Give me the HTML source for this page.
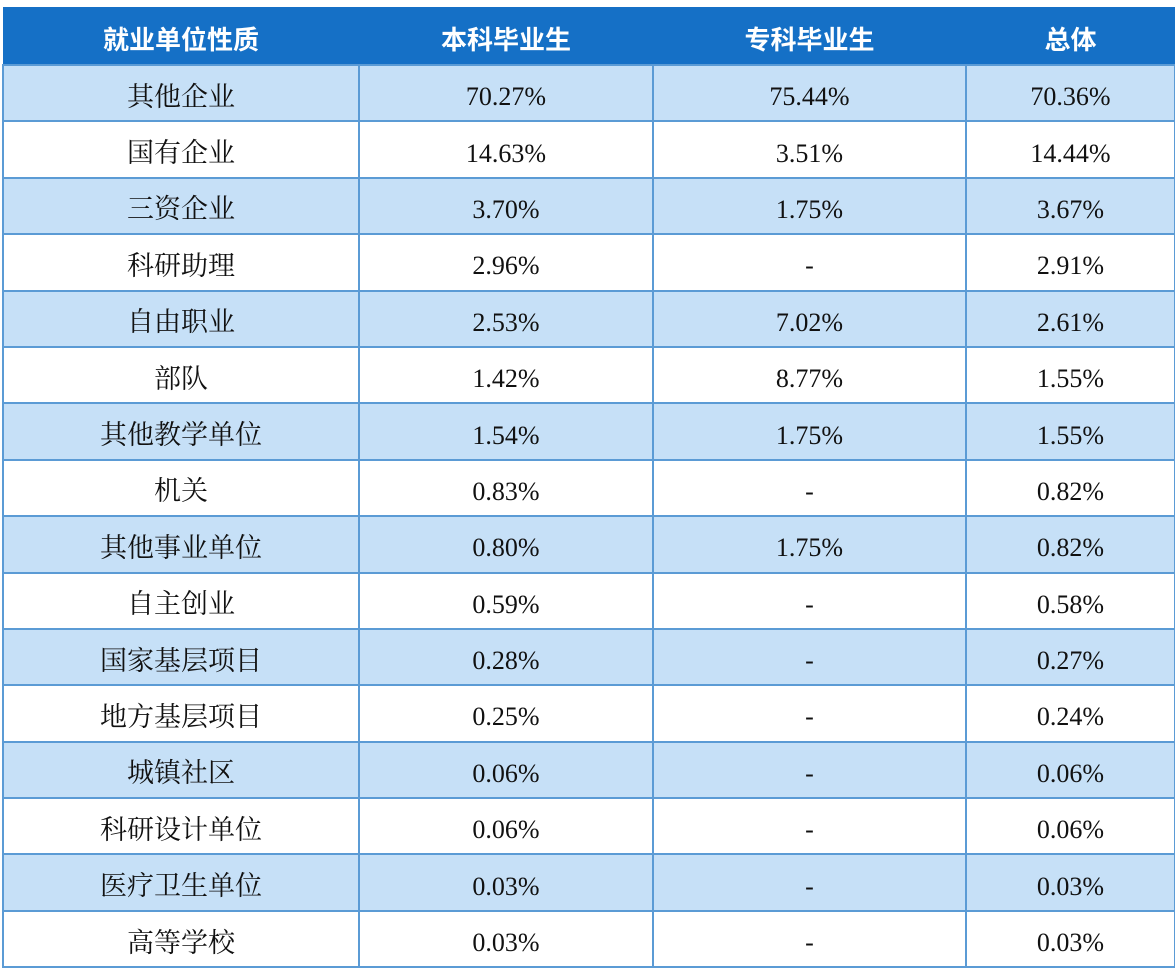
<!DOCTYPE html>
<html><head><meta charset="utf-8"><style>
body{margin:0;background:#fff;width:1175px;height:969px;overflow:hidden}
table{position:absolute;left:2px;top:7px;border-collapse:collapse;table-layout:fixed;width:1172px}
th{background:#1570c6;color:#fff;height:57px;font:bold 26px/1 "Liberation Sans","Noto Sans CJK SC",sans-serif;border:none;padding:0}
th span{position:relative;top:4px}
td{height:54.4px;border:2px solid #5b9bd5;text-align:center;padding:0;font:26px/1 "Liberation Serif",serif;color:#111;vertical-align:middle}
td span{position:relative;top:4px}
td.c{font:27px/1 "Noto Serif CJK SC",serif}
td.c span{top:1px}
tr.b td{background:#c6e0f7}
</style></head><body>
<table>
<colgroup><col style="width:356px"><col style="width:294px"><col style="width:313px"><col style="width:209px"></colgroup>
<tr><th><span>就业单位性质</span></th><th><span>本科毕业生</span></th><th><span>专科毕业生</span></th><th><span>总体</span></th></tr>
<tr class="b"><td class="c"><span>其他企业</span></td><td><span>70.27%</span></td><td><span>75.44%</span></td><td><span>70.36%</span></td></tr>
<tr><td class="c"><span>国有企业</span></td><td><span>14.63%</span></td><td><span>3.51%</span></td><td><span>14.44%</span></td></tr>
<tr class="b"><td class="c"><span>三资企业</span></td><td><span>3.70%</span></td><td><span>1.75%</span></td><td><span>3.67%</span></td></tr>
<tr><td class="c"><span>科研助理</span></td><td><span>2.96%</span></td><td><span>-</span></td><td><span>2.91%</span></td></tr>
<tr class="b"><td class="c"><span>自由职业</span></td><td><span>2.53%</span></td><td><span>7.02%</span></td><td><span>2.61%</span></td></tr>
<tr><td class="c"><span>部队</span></td><td><span>1.42%</span></td><td><span>8.77%</span></td><td><span>1.55%</span></td></tr>
<tr class="b"><td class="c"><span>其他教学单位</span></td><td><span>1.54%</span></td><td><span>1.75%</span></td><td><span>1.55%</span></td></tr>
<tr><td class="c"><span>机关</span></td><td><span>0.83%</span></td><td><span>-</span></td><td><span>0.82%</span></td></tr>
<tr class="b"><td class="c"><span>其他事业单位</span></td><td><span>0.80%</span></td><td><span>1.75%</span></td><td><span>0.82%</span></td></tr>
<tr><td class="c"><span>自主创业</span></td><td><span>0.59%</span></td><td><span>-</span></td><td><span>0.58%</span></td></tr>
<tr class="b"><td class="c"><span>国家基层项目</span></td><td><span>0.28%</span></td><td><span>-</span></td><td><span>0.27%</span></td></tr>
<tr><td class="c"><span>地方基层项目</span></td><td><span>0.25%</span></td><td><span>-</span></td><td><span>0.24%</span></td></tr>
<tr class="b"><td class="c"><span>城镇社区</span></td><td><span>0.06%</span></td><td><span>-</span></td><td><span>0.06%</span></td></tr>
<tr><td class="c"><span>科研设计单位</span></td><td><span>0.06%</span></td><td><span>-</span></td><td><span>0.06%</span></td></tr>
<tr class="b"><td class="c"><span>医疗卫生单位</span></td><td><span>0.03%</span></td><td><span>-</span></td><td><span>0.03%</span></td></tr>
<tr><td class="c"><span>高等学校</span></td><td><span>0.03%</span></td><td><span>-</span></td><td><span>0.03%</span></td></tr>
</table>
</body></html>
